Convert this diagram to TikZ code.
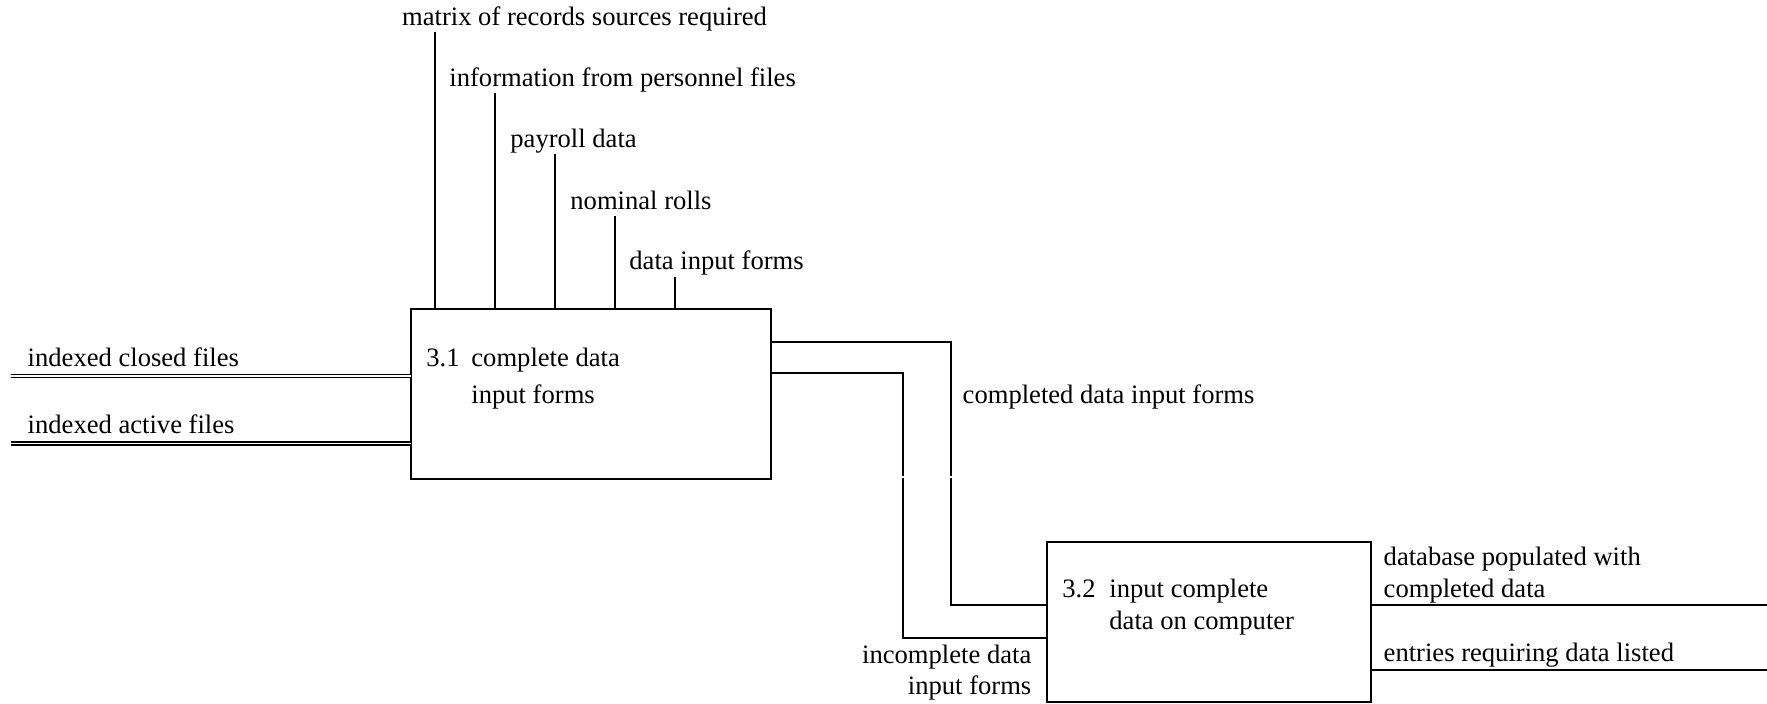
\documentclass[tikz,border=0pt]{standalone}
\usepackage{fontspec}
\setmainfont{Liberation Serif}
\begin{document}
\begin{tikzpicture}[x=0.5pt,y=-0.5pt,
  lbl/.style={inner sep=0pt, anchor=base west, font=\fontsize{13.3}{16}\selectfont},
  lblr/.style={lbl, anchor=base east},
  flow/.style={line width=1.1pt},
  store/.style={double, double distance=0.8pt, line width=0.75pt},
  proc/.style={draw, line width=1.1pt, inner sep=0pt, outer sep=0pt, rectangle}]
\useasboundingbox (0,0) rectangle (1767,704);

% process boxes
\node[proc, minimum width=180pt, minimum height=85pt] (b1) at (591,394) {};
\node[proc, minimum width=162pt, minimum height=80pt] (b2) at (1209,622) {};

% process titles
\node[lbl] (n31)  at (426,367)   {3.1};
\node[lbl] (t31a) at (471,367)   {complete data};
\node[lbl] (t31b) at (471,403.3) {input forms};
\node[lbl] (n32)  at (1062,598)  {3.2};
\node[lbl] (t32a) at (1109,598)  {input complete};
\node[lbl] (t32b) at (1109,630)  {data on computer};

% controls entering from above
\node[lbl] (c1) at (401.7,26)  {matrix of records sources required};
\node[lbl] (c2) at (449,86.7)  {information from personnel files};
\node[lbl] (c3) at (510,147.7) {payroll data};
\node[lbl] (c4) at (570,209.3) {nominal rolls};
\node[lbl] (c5) at (629,270)   {data input forms};
\coordinate (c1e) at (435,32);
\coordinate (c2e) at (495,93);
\coordinate (c3e) at (555,154);
\coordinate (c4e) at (615,216);
\coordinate (c5e) at (675,277);
\foreach \c in {c1e,c2e,c3e,c4e,c5e}
  \draw[flow] (\c) -- (\c |- b1.north);

% stores entering from the left
\node[lbl] (s1) at (27.3,366.7) {indexed closed files};
\node[lbl] (s2) at (27.3,433.3) {indexed active files};
\coordinate (s1e) at (11,375.9);
\coordinate (s2e) at (11,443.7);
\draw[store] (s1e) -- (s1e -| b1.west);
\draw[store] (s2e) -- (s2e -| b1.west);

% flows from 3.1 to 3.2
\coordinate (f1a) at (951,342);
\coordinate (f1b) at (951,475.7);
\coordinate (f1c) at (951,477.7);
\coordinate (f1d) at (951,605);
\coordinate (f2a) at (903,373.3);
\coordinate (f2b) at (903,475.7);
\coordinate (f2c) at (903,477.7);
\coordinate (f2d) at (903,637.7);
\draw[flow] (f1a -| b1.east) -- (f1a) -- (f1b);
\draw[flow] (f1c) -- (f1d) -- (f1d -| b2.west);
\draw[flow] (f2a -| b1.east) -- (f2a) -- (f2b);
\draw[flow] (f2c) -- (f2d) -- (f2d -| b2.west);
\node[lbl]  (l1)  at (962.3,403.3) {completed data input forms};
\node[lblr] (l2a) at (1031.7,663.3) {incomplete data};
\node[lblr] (l2b) at (1031.7,695)   {input forms};

% outputs of 3.2
\coordinate (o1) at (1767,605);
\coordinate (o2) at (1767,669.7);
\draw[flow] (o1 -| b2.east) -- (o1);
\draw[flow] (o2 -| b2.east) -- (o2);
\node[lbl] (o1a) at (1383.3,565.7) {database populated with};
\node[lbl] (o1b) at (1383.3,597.3) {completed data};
\node[lbl] (o2a) at (1383.3,661.7) {entries requiring data listed};
\end{tikzpicture}
\end{document}
